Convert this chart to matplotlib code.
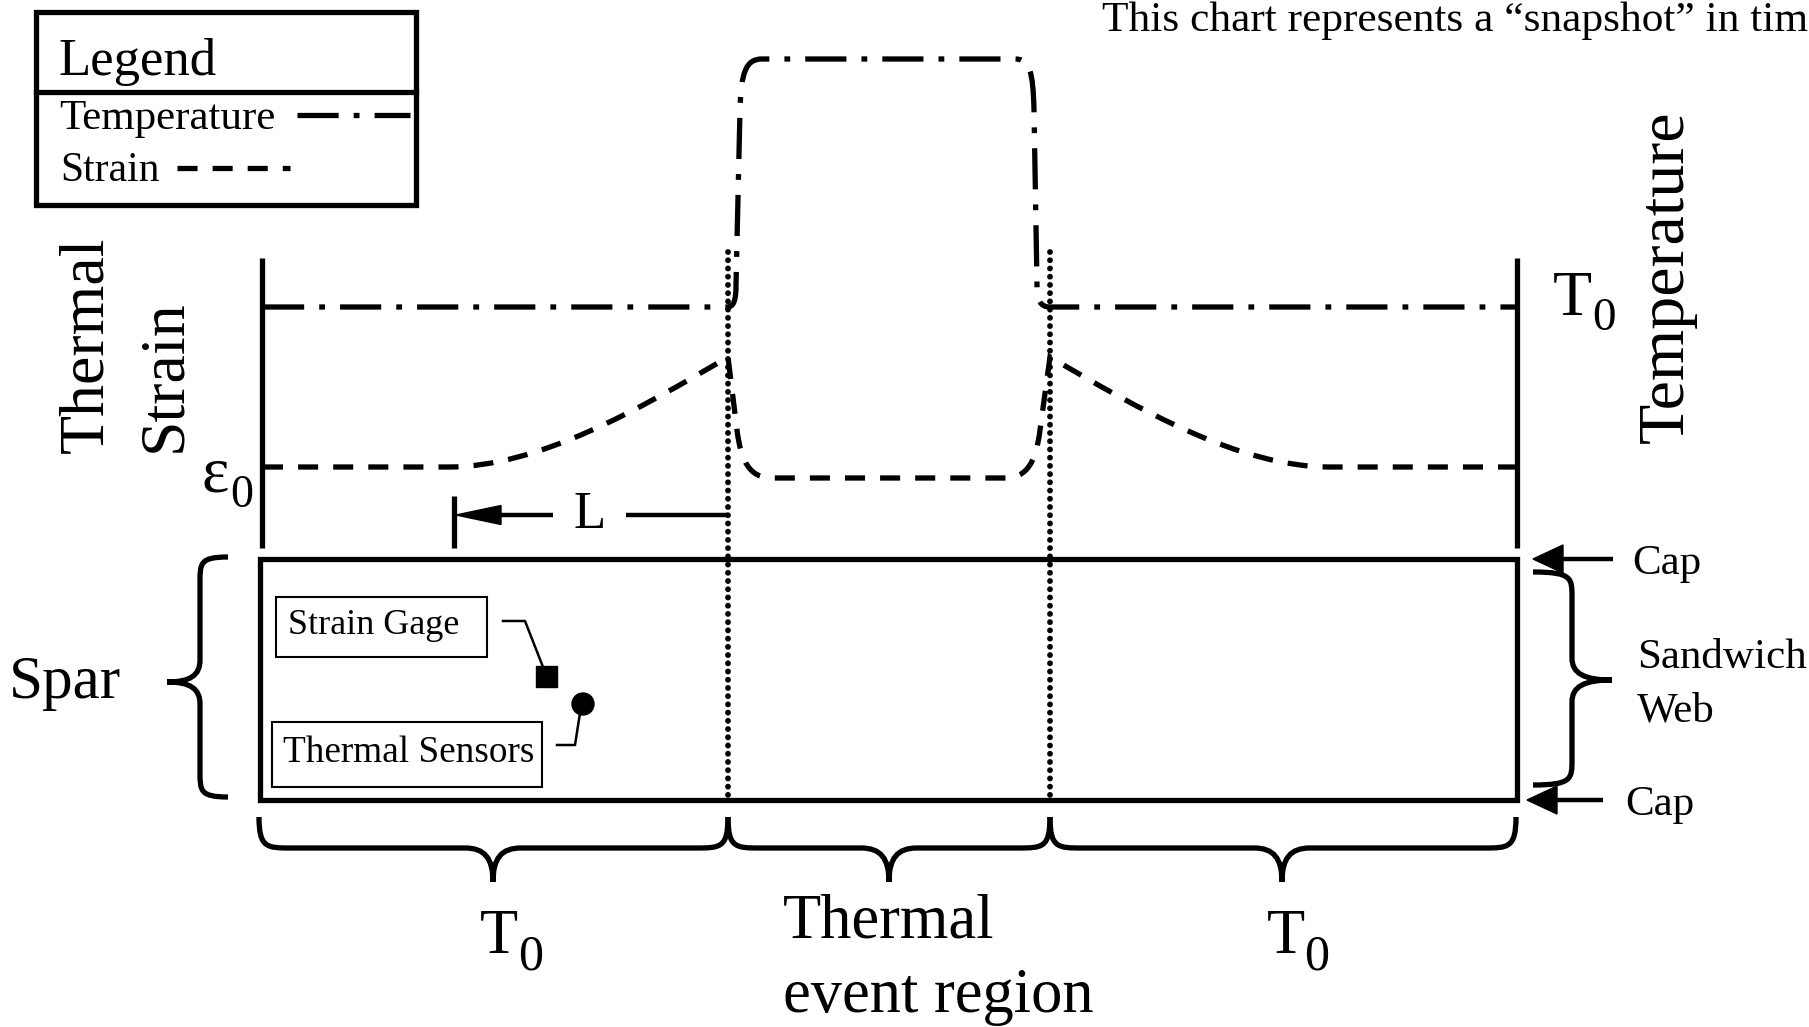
import matplotlib
matplotlib.use('Agg')
import matplotlib.pyplot as plt
from matplotlib.path import Path
from matplotlib.patches import PathPatch, Polygon, Rectangle, Circle

plt.rcParams['font.family'] = ['Liberation Serif', 'DejaVu Serif']

W, H = 1809, 1027
LW = 3.8
DASHDOT = (0, (7.8, 2.85, 1.1, 2.85))   # temperature
DASHED = (0, (3.8, 2.85))              # strain

# schematic geometry, in pixels of the picture (y grows downwards)
temp_vertices = [(263, 307), (727, 307),
                 (734, 307), (736, 300), (736, 285),
                 (740, 110),
                 (741, 72), (746, 59), (762, 59),
                 (1015, 59),
                 (1030, 59), (1033, 72), (1034, 110),
                 (1037, 285),
                 (1037, 300), (1040, 307), (1050, 307),
                 (1517, 307)]
temp_codes = ['M', 'L', 'C', 'C', 'C', 'L', 'C', 'C', 'C', 'L', 'C', 'C', 'C', 'L', 'C', 'C', 'C', 'L']

strain_vertices = [(263, 467), (448, 467),
                   (538, 467), (638, 410), (728, 357),
                   (737, 430),
                   (741, 462), (750, 478), (772, 478),
                   (1005, 478),
                   (1027, 478), (1036, 462), (1040, 430),
                   (1050, 357),
                   (1140, 410), (1240, 467), (1330, 467),
                   (1517, 467)]
strain_codes = ['M', 'L', 'C', 'C', 'C', 'L', 'C', 'C', 'C', 'L', 'C', 'C', 'C', 'L', 'C', 'C', 'C', 'L']

axis_x = [262, 1517]
axis_top = 258
axis_bottom = 548
event_x = [728, 1050]
event_top, event_bottom = 252, 800
spar_x = (260, 1517)
spar_y = (559, 800)

legend_box = (36, 12, 416, 205)
legend_divider = 92

# braces: (start, end, tip, end line, spine line, tip line, curl, tip curl)
bottom_braces = [(259, 728, 493, 817, 848, 882, 32, 28),
                 (728, 1050, 889, 817, 848, 882, 32, 28),
                 (1050, 1516, 1282, 817, 848, 882, 32, 28)]
side_braces = [(557, 797, 682, 228, 200, 167, 25, 22),
               (572, 785, 680, 1533, 1572, 1612, 25, 22)]

cap_arrows = [(1533, 1613, 559), (1527, 1603, 800)]

texts = [
    (1102, 31, 'This chart represents a \u201csnapshot\u201d in time', 31.2, 0),
    (58, 75, 'Legend', 38, 0),
    (59, 129, 'Temperature', 31, 0),
    (60, 181, 'Strain', 30, 0),
    (102, 453, 'Thermal', 46, 90),
    (180, 452, 'Strain', 46, 90),
    (1683, 443, 'Temperature', 47.5, 90),
    (9, 698, 'Spar', 44, 0),
    (1632, 574, 'Cap', 31, 0),
    (1625, 815, 'Cap', 31, 0),
    (1637, 668, 'Sandwich', 31, 0),
    (1637, 722, 'Web', 31, 0),
    (783, 938, 'Thermal', 45, 0),
    (783, 1012, 'event region', 45, 0),
    (288, 634, 'Strain Gage', 26, 0),
    (283, 762, 'Thermal Sensors', 26.8, 0),
]
symbols = [  # (x, baseline, letter, size, sub x, sub baseline, sub size)
    (202, 492, '\u03b5', 47, 230, 507, 33),
    (1553, 315, 'T', 46, 1592, 330, 34),
    (480, 953, 'T', 45, 518, 970, 36),
    (1267, 953, 'T', 45, 1304, 970, 36),
]


def mkpath(verts, codes):
    table = {'M': Path.MOVETO, 'L': Path.LINETO, 'C': Path.CURVE4}
    return Path(verts, [table[c] for c in codes])


def brace(a0, a1, am, bt, bs, btip, c, k, vertical=False):
    pts = [(a0, bt), (a0, bs), (a0 + 0.25 * c, bs), (a0 + c, bs),
           (am - k, bs),
           (am - 0.3 * k, bs), (am, bs + 0.3 * (btip - bs)), (am, btip),
           (am, bs + 0.3 * (btip - bs)), (am + 0.3 * k, bs), (am + k, bs),
           (a1 - c, bs),
           (a1 - 0.25 * c, bs), (a1, bs), (a1, bt)]
    if vertical:
        pts = [(b, a) for a, b in pts]
    codes = ['M', 'C', 'C', 'C', 'L', 'C', 'C', 'C', 'C', 'C', 'C', 'L', 'C', 'C', 'C']
    return mkpath(pts, codes)


fig = plt.figure(figsize=(W / 100, H / 100), dpi=100)
ax = fig.add_axes([0, 0, 1, 1])
ax.set_xlim(0, W)
ax.set_ylim(H, 0)
ax.axis('off')

# legend
x0, y0, x1, y1 = legend_box
ax.add_patch(Rectangle((x0, y0), x1 - x0, y1 - y0, fill=False, lw=LW, ec='black'))
ax.plot([x0, x1], [legend_divider, legend_divider], color='black', lw=LW)
ax.plot([297, 410], [115, 115], color='black', lw=LW, linestyle=DASHDOT)
ax.plot([177, 290], [168, 168], color='black', lw=LW, linestyle=DASHED)

# axes of the strain / temperature plot
for x in axis_x:
    ax.plot([x, x], [axis_top, axis_bottom], color='black', lw=LW, solid_capstyle='butt')

# event region boundaries
for x in event_x:
    ax.plot([x, x], [event_top, event_bottom], color='black', lw=4.2,
            linestyle=(0, (0.01, 1.4)), dash_capstyle='round')

ax.add_patch(PathPatch(mkpath(temp_vertices, temp_codes), fill=False, lw=LW, ec='black',
                       linestyle=DASHDOT))
ax.add_patch(PathPatch(mkpath(strain_vertices, strain_codes), fill=False, lw=LW, ec='black',
                       linestyle=DASHED))

# L dimension
ax.plot([454, 454], [496, 548], color='black', lw=LW, solid_capstyle='butt')
ax.add_patch(Polygon([(456, 515), (501, 505.5), (501, 524.5)], closed=True, color='black'))
ax.plot([501, 553], [515, 515], color='black', lw=3.2, solid_capstyle='butt')
ax.plot([626, 728], [515, 515], color='black', lw=3.2, solid_capstyle='butt')
ax.text(590, 528, 'L', fontsize=38, ha='center', va='baseline')

# spar
ax.add_patch(Rectangle((spar_x[0], spar_y[0]), spar_x[1] - spar_x[0], spar_y[1] - spar_y[0],
                       fill=False, lw=LW, ec='black'))
ax.add_patch(Rectangle((276, 597), 211, 60, fill=False, lw=1.5, ec='black'))
ax.add_patch(Rectangle((272, 722), 270, 65, fill=False, lw=1.5, ec='black'))
ax.plot([503, 525, 543], [621, 621, 667], color='black', lw=1.8)
ax.plot([557, 575, 580], [745, 745, 713], color='black', lw=1.8)
ax.add_patch(Rectangle((536, 666), 21, 21, color='black'))
ax.add_patch(Circle((583, 704), 11, color='black'))

# braces
for b in bottom_braces:
    ax.add_patch(PathPatch(brace(*b), fill=False, lw=LW, ec='black'))
for b in side_braces:
    ax.add_patch(PathPatch(brace(*b, vertical=True), fill=False, lw=LW, ec='black'))

# cap arrows
for tip, tail, y in cap_arrows:
    ax.add_patch(Polygon([(tip, y), (tip + 30, y - 14), (tip + 30, y + 14)], closed=True, color='black'))
    ax.plot([tip + 29, tail], [y, y], color='black', lw=3.2, solid_capstyle='butt')

for x, y, s, size, rot in texts:
    if rot:
        ax.text(x, y, s, fontsize=size, rotation=rot, rotation_mode='anchor',
                ha='left', va='baseline')
    else:
        ax.text(x, y, s, fontsize=size, ha='left', va='baseline')

for x, y, s, size, sx, sy, ssize in symbols:
    ax.text(x, y, s, fontsize=size, ha='left', va='baseline')
    ax.text(sx, sy, '0', fontsize=ssize, ha='left', va='baseline')

fig.savefig('out.png', dpi=100, facecolor='white')
